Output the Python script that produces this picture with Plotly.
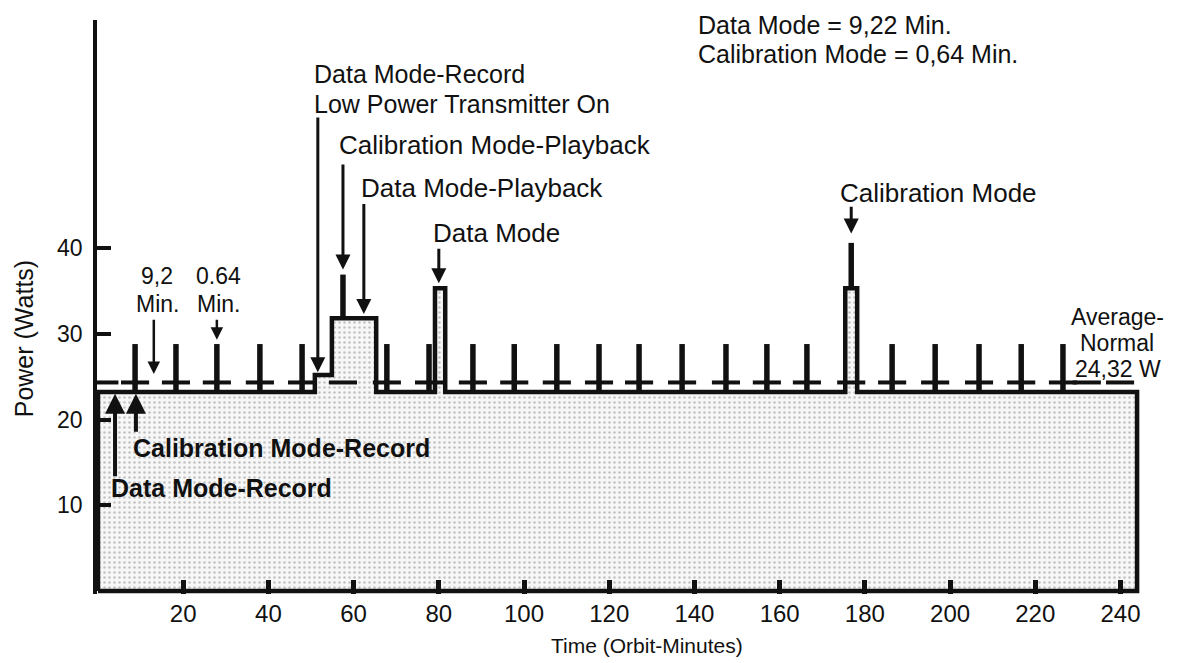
import plotly.graph_objects as go

# ---------------- data ----------------
times_min = [0, 50.9, 54.9, 65.3, 79.1, 81.5, 175.4, 178.2, 243.9]
power_w = [23.2, 25.2, 31.8, 23.2, 35.3, 23.2, 35.3, 23.2, 23.2]

spike_times = [8.7, 18.3, 27.9, 38.0, 47.9, 67.8, 77.7, 88.0, 97.7, 107.7,
               117.6, 127.0, 137.1, 147.4, 157.0, 166.4, 186.4, 196.5,
               206.8, 216.7, 226.5]
spike_top_w = 28.8

cal_spike_times = [57.5, 176.8]
cal_spike_base_w = [31.8, 35.3]
cal_spike_top_w = [36.9, 40.6]

average_w = 24.32
extra_dash_centers = [1.5, 232.1, 239.9]

x_tick_vals = [20, 40, 60, 80, 100, 120, 140, 160, 180, 200, 220, 240]
y_tick_vals = [10, 20, 30, 40]

FONT = "Liberation Sans"
INK = "#111111"

# ---------------- traces ----------------
base_w = power_w[0]
end_t = times_min[-1]
poly_x = [0] + times_min + [end_t, 0]
poly_y = [0] + power_w + [0, 0]

fig = go.Figure()
fig.add_trace(go.Scatter(
    x=poly_x, y=poly_y, mode="lines", line=dict(color=INK, width=4.5, shape="hv"),
    fill="toself", fillcolor="#f6f6f6",
    fillpattern=dict(shape=".", fgcolor="#8c8c8c", bgcolor="#f7f7f7", size=5, solidity=0.2),
    hoverinfo="skip", showlegend=False))

sx, sy = [], []
for t in spike_times:
    sx += [t, t, None]
    sy += [base_w, spike_top_w, None]
for t, b, tp in zip(cal_spike_times, cal_spike_base_w, cal_spike_top_w):
    sx += [t, t, None]
    sy += [b, tp, None]
fig.add_trace(go.Scatter(x=sx, y=sy, mode="lines", line=dict(color=INK, width=5.5),
                         hoverinfo="skip", showlegend=False))

half = 3.3
dx, dy = [], []
for c in spike_times + cal_spike_times + extra_dash_centers:
    dx += [c - half, c + half, None]
    dy += [average_w, average_w, None]
fig.add_trace(go.Scatter(x=dx, y=dy, mode="lines", line=dict(color=INK, width=4),
                         hoverinfo="skip", showlegend=False))

# ---------------- annotations ----------------
ann = []

def txt(x, y, s, size=26, xanchor="left", yanchor="middle", bold=False,
        xref="x", yref="y", angle=0):
    ann.append(dict(x=x, y=y, xref=xref, yref=yref, text=("<b>%s</b>" % s) if bold else s,
                    showarrow=False, xanchor=xanchor, yanchor=yanchor, textangle=angle,
                    borderpad=0,
                    font=dict(family=FONT, size=size, color=INK)))

def arrow(x, y_tip, y_tail, width=3):
    ann.append(dict(x=x, y=y_tip, ax=x, ay=y_tail, xref="x", yref="y", axref="x", ayref="y",
                    text="", showarrow=True, arrowhead=2, arrowsize=1.0, arrowwidth=width,
                    arrowcolor=INK, standoff=0, startstandoff=0))

txt(50.5, 58.6, "Data Mode-Record", size=25, yanchor="bottom")
txt(50.5, 58.6, "Low Power Transmitter On", size=25, yanchor="top")
arrow(51.6, 25.5, 55.4)

txt(56.3, 52.0, "Calibration Mode-Playback")
arrow(57.5, 37.5, 49.9)

txt(61.5, 47.0, "Data Mode-Playback")
arrow(62.4, 32.3, 45.3)

txt(78.4, 41.75, "Data Mode")
arrow(80.0, 35.9, 40.1)

txt(173.9, 46.4, "Calibration Mode")
arrow(176.8, 41.7, 45.0)

txt(13.85, 35.1, "9,2", size=23, xanchor="center", yanchor="bottom")
txt(13.85, 35.1, "Min.", size=23, xanchor="center", yanchor="top")
arrow(13.1, 25.3, 31.8, width=2.5)

txt(28.4, 35.1, "0.64", size=23, xanchor="center", yanchor="bottom")
txt(28.4, 35.1, "Min.", size=23, xanchor="center", yanchor="top")
arrow(27.9, 29.3, 31.8, width=2.5)

txt(8.0, 16.7, "Calibration Mode-Record", size=25, bold=True)
arrow(8.9, 23.0, 18.4, width=4)
txt(2.8, 12.0, "Data Mode-Record", size=25, bold=True)
arrow(4.0, 23.0, 13.2, width=4)

txt(239.2, 31.9, "Average-", size=23, xanchor="center")
txt(239.2, 28.9, "Normal", size=23, xanchor="center")
txt(239.4, 25.9, "24,32 W", size=23, xanchor="center")

txt(140.6, 66.0, "Data Mode = 9,22 Min.", size=25)
txt(140.6, 62.6, "Calibration Mode = 0,64 Min.", size=25)

txt(-0.068, 0.445, "Power (Watts)", size=25, xanchor="center", xref="paper", yref="paper", angle=-90)
txt(0.51, -0.09, "Time (Orbit-Minutes)", size=21, xanchor="center", xref="paper", yref="paper")

fig.update_layout(
    width=1177, height=663, autosize=False,
    margin=dict(l=97, r=2, t=20, b=69),
    plot_bgcolor="white", paper_bgcolor="white",
    annotations=ann, showlegend=False,
    font=dict(family=FONT, color=INK),
    xaxis=dict(range=[-0.235, 252.8], tickvals=x_tick_vals, ticks="inside", ticklen=14,
               tickwidth=5, tickcolor=INK, showline=False, showgrid=False, zeroline=False,
               tickfont=dict(family=FONT, size=24, color=INK), ticklabelstandoff=3),
    yaxis=dict(range=[-0.35, 66.59], tickvals=y_tick_vals, ticks="inside", ticklen=14,
               tickwidth=3.5, tickcolor=INK, showline=True, linewidth=3.5, linecolor=INK,
               showgrid=False, zeroline=False,
               tickfont=dict(family=FONT, size=23, color=INK), ticklabelstandoff=6),
)

fig.write_html(
    "out.html",
    config={"displayModeBar": False},
    post_script="document.body.style.margin='0';document.body.style.overflow='hidden';",
)
